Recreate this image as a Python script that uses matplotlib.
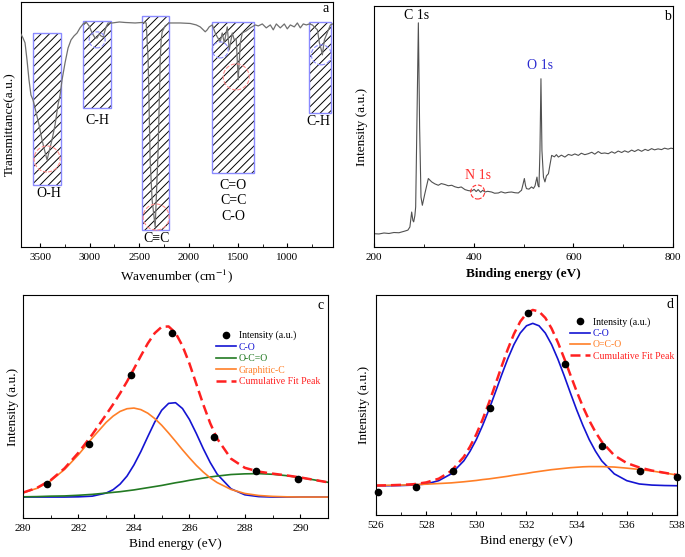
import matplotlib
matplotlib.use('Agg')
import matplotlib.pyplot as plt
from matplotlib.patches import Rectangle, Ellipse
from matplotlib.ticker import MultipleLocator

plt.rcParams['font.family'] = ['Liberation Serif', 'DejaVu Serif']
plt.rcParams['mathtext.fontset'] = 'stix'
plt.rcParams['hatch.linewidth'] = 0.7

### 0. Data
# (a) FTIR spectrum
ftir_wn = [3700, 3677, 3656, 3636, 3616, 3596, 3575, 3545, 3514, 3484, 3454, 3433, 3413, 3383,
           3352, 3322, 3301, 3281, 3251, 3220, 3190, 3160, 3129, 3099, 3068, 3038, 3007, 2977,
           2947, 2926, 2906, 2886, 2865, 2835, 2815, 2774, 2700, 2642, 2541, 2470, 2429, 2409,
           2389, 2369, 2338, 2308, 2287, 2277, 2267, 2237, 2196, 2166, 2085, 1983, 1922, 1882,
           1851, 1831, 1811, 1791, 1760, 1730, 1709, 1679, 1659, 1638, 1608, 1588, 1557, 1537,
           1517, 1497, 1476, 1456, 1415, 1375, 1324, 1294, 1253, 1213, 1172, 1142, 1111, 1071,
           1030, 1000, 969, 929, 898, 868, 838, 807, 777, 746, 716, 695, 675, 655, 645, 624,
           604, 584, 563, 540]
ftir_t = [87.0, 85.3, 83.3, 76.3, 68.2, 62.0, 60.0, 55.1, 49.8, 43.7, 38.8, 35.5, 38.8, 43.7,
          49.8, 58.0, 62.0, 68.2, 75.1, 81.2, 84.5, 86.1, 87.3, 89.4, 91.0, 91.8, 90.2, 87.3,
          85.3, 85.3, 86.9, 86.1, 85.7, 89.8, 91.4, 91.4, 91.8, 91.6, 91.4, 91.6, 91.4, 76.3,
          35.5, 19.2, 8.2, 39.6, 76.3, 84.5, 87.8, 90.2, 91.4, 91.4, 91.4, 91.2, 90.6, 89.8,
          88.6, 87.8, 88.6, 89.8, 90.6, 87.3, 85.7, 83.7, 87.3, 83.3, 89.8, 80.4, 87.3, 84.5,
          85.0, 68.2, 83.3, 87.3, 88.2, 89.4, 90.6, 90.2, 91.0, 89.4, 90.6, 88.6, 91.0, 89.4,
          91.0, 89.0, 90.6, 89.8, 91.4, 89.4, 91.0, 90.6, 91.0, 90.6, 89.4, 88.6, 83.3, 80.4,
          78.4, 84.5, 86.5, 88.6, 90.6, 91.0]
band_lo = [3291, 2784, 2196, 1334, 553]
band_hi = [3575, 3068, 2470, 1760, 777]
band_bot = [25.3, 56.7, 6.9, 30.2, 54.7]
band_top = [87.3, 92.2, 94.3, 91.8, 91.8]
band_names = ['O-H', 'C-H', 'C\u2261C', 'C=O\nC=C\nC-O', 'C-H']
name_wn = [3413, 2926, 2328, 1545, 685]
name_t = [22.0, 51.8, 3.3, 18.8, 51.0]
ring_wn = [3433, 2926, 2328, 1679, 1517, 655]
ring_t = [35.9, 84.5, 12.2, 80.4, 69.4, 78.4]
ring_r = [13, 8, 13, 8, 13, 10]
ring_col = ['#ff8c8c', '#8c8cff', '#ff8c8c', '#8c8cff', '#ff8c8c', '#8c8cff']

# (b) XPS survey
surv_be = [200, 210, 220, 230, 240, 250, 262, 268, 272, 275.6, 278, 279.6, 282, 283.6, 286, 289,
           291.5, 294.3, 297, 302, 309, 315.7, 322, 329, 335, 342.5, 349, 356, 362, 369, 375,
           382.6, 389, 396, 401, 405, 409, 414, 418, 422.7, 428, 436, 442, 449.5, 455, 463, 470,
           476, 483, 489.6, 494, 496, 499, 501.7, 504, 506, 511, 516, 520, 523, 527, 529, 531,
           533, 535, 537, 540, 543, 546, 550, 553, 556.5, 562, 566, 570, 576, 583, 590, 596.7,
           603, 610, 616, 623, 630, 637, 643, 650, 656, 663, 670, 677, 683, 690, 697, 703, 710,
           717, 723, 730, 737, 744, 750, 757, 763, 770, 777, 783, 790, 796, 800]
surv_i = [5.5, 5.4, 5.8, 5.6, 6.0, 5.9, 6.6, 7.0, 8.3, 14.5, 11.0, 10.4, 13.0, 16.6, 50.0, 93.0,
          50.0, 20.7, 17.3, 22.1, 28.4, 27.0, 26.2, 25.6, 26.3, 25.9, 25.4, 25.6, 25.0, 24.6, 24.9,
          23.8, 23.4, 23.2, 23.9, 23.0, 23.8, 22.7, 23.5, 22.8, 23.1, 22.8, 22.3, 22.4, 22.9, 22.4,
          22.7, 22.8, 22.5, 22.4, 23.2, 23.5, 26.0, 28.4, 25.5, 24.2, 24.0, 24.9, 24.3, 25.3, 29.0,
          25.6, 24.9, 40.0, 69.8, 40.0, 29.0, 27.0, 29.5, 30.4, 34.0, 38.0, 37.4, 38.3, 37.3, 38.1,
          37.3, 38.4, 38.0, 38.6, 38.0, 38.9, 38.3, 38.7, 39.3, 38.5, 39.6, 38.8, 39.0, 38.7, 39.5,
          38.9, 39.8, 39.2, 39.9, 39.3, 40.2, 39.6, 40.4, 39.7, 40.5, 40.0, 40.8, 40.3, 40.7, 40.4,
          41.0, 40.6, 41.0, 40.8]
peak_names = ['C 1s', 'O 1s', 'N 1s']
peak_be = [285.7, 533, 409.4]
peak_i = [96.1, 75.4, 29.7]
peak_col = ['black', '#2b2bd0', '#ff3030']

# (c) C 1s fit
c_be = [280, 280.5, 281, 281.5, 282, 282.5, 283, 283.25, 283.5, 283.75, 284, 284.25, 284.5,
        284.75, 285, 285.25, 285.5, 285.75, 286, 286.25, 286.5, 286.75, 287, 287.5, 288, 288.5,
        289, 289.5, 290, 290.5, 291]
c_co = [9.4, 9.4, 9.4, 9.4, 9.5, 9.8, 11.2, 12.7, 15.2, 18.8, 23.8, 29.8, 36.5, 43.0, 48.3,
        51.4, 51.7, 49.1, 44.2, 37.9, 31.1, 24.9, 19.7, 13.1, 10.4, 9.6, 9.4, 9.4, 9.4, 9.4, 9.4]
c_oco = [9.5, 9.6, 9.8, 9.9, 10.2, 10.6, 11.2, 11.5, 11.8, 12.2, 12.6, 13.1, 13.6, 14.1, 14.6,
         15.2, 15.8, 16.3, 16.9, 17.4, 17.9, 18.4, 18.8, 19.5, 19.8, 19.9, 19.6, 19.0, 18.1,
         17.1, 16.0]
c_gra = [11.3, 13.3, 16.7, 21.8, 28.4, 35.9, 42.9, 45.7, 47.8, 49.0, 49.3, 48.6, 47.0, 44.6,
         41.6, 38.1, 34.4, 30.6, 27.0, 23.6, 20.6, 18.0, 15.9, 12.8, 11.0, 10.1, 9.7, 9.5, 9.4,
         9.4, 9.4]
c_sum = [11.4, 13.5, 17.0, 22.3, 29.3, 37.5, 46.4, 51.0, 55.9, 61.2, 66.9, 72.7, 78.3, 82.9,
         85.7, 85.9, 83.0, 77.2, 69.3, 60.1, 50.9, 42.5, 35.6, 26.6, 22.5, 20.8, 19.9, 19.1,
         18.2, 17.1, 16.0]
c_pts_be = [280.85, 282.37, 283.89, 285.38, 286.9, 288.41, 289.9]
c_pts_i = [15.2, 33.1, 64.2, 82.8, 36.1, 21.2, 17.6]

# (d) O 1s fit
d_be = [526, 526.5, 527, 527.5, 528, 528.5, 529, 529.5, 529.75, 530, 530.25, 530.5, 530.75,
        531, 531.25, 531.5, 531.75, 532, 532.25, 532.5, 532.75, 533, 533.25, 533.5, 533.75,
        534, 534.25, 534.5, 534.75, 535, 535.5, 536, 536.5, 537, 537.5, 538]
d_co = [13.3, 13.3, 13.4, 13.6, 14.1, 15.6, 18.7, 24.6, 29.0, 34.3, 40.7, 47.8, 55.5, 63.4,
        70.9, 77.5, 82.7, 86.0, 87.1, 86.0, 82.7, 77.5, 70.9, 63.4, 55.5, 47.8, 40.7, 34.3,
        29.0, 24.6, 18.7, 15.6, 14.1, 13.6, 13.4, 13.3]
d_oco = [13.4, 13.5, 13.6, 13.8, 14.0, 14.3, 14.6, 15.1, 15.4, 15.7, 16.1, 16.4, 16.8, 17.2,
         17.6, 18.1, 18.5, 18.9, 19.4, 19.8, 20.2, 20.6, 20.9, 21.2, 21.5, 21.7, 21.9, 22.0,
         22.0, 22.0, 21.8, 21.3, 20.7, 20.0, 19.1, 18.2]
d_sum = [13.4, 13.5, 13.7, 14.0, 14.8, 16.5, 20.0, 26.4, 31.1, 36.7, 43.4, 50.9, 59.0, 67.3,
         75.2, 82.3, 87.9, 91.6, 93.2, 92.5, 89.6, 84.8, 78.5, 71.3, 63.7, 56.2, 49.2, 43.0,
         37.7, 33.3, 27.1, 23.6, 21.6, 20.2, 19.2, 18.2]
d_pts_be = [526.09, 527.58, 529.06, 530.55, 532.05, 533.54, 535.03, 536.53, 538.02]
d_pts_i = [10.6, 12.9, 20.0, 48.8, 91.7, 68.5, 31.4, 20.2, 17.1]

### 1. Figure
fig = plt.figure(figsize=(6.85, 5.57), dpi=100)
ax_a = fig.add_axes([0.0302, 0.5566, 0.4555, 0.4400])
ax_b = fig.add_axes([0.5460, 0.5566, 0.4365, 0.4327])
ax_c = fig.add_axes([0.0336, 0.0700, 0.4453, 0.4004])
ax_d = fig.add_axes([0.5489, 0.0754, 0.4394, 0.3950])

def style(ax, major, minor, letter, lx, ly):
    ax.xaxis.set_major_locator(MultipleLocator(major))
    ax.xaxis.set_minor_locator(MultipleLocator(minor))
    ax.tick_params(axis='x', which='major', direction='in', length=3, width=0.8,
                   labelsize=8, pad=4)
    ax.tick_params(axis='x', which='minor', direction='in', length=2, width=0.6)
    ax.set_yticks([])
    for s in ax.spines.values():
        s.set_linewidth(0.8)
    ax.text(lx, ly, letter, transform=ax.transAxes, ha='center', va='center', fontsize=10)

def ring(ax, x, y, r, col, sx, sy):
    ax.add_patch(Ellipse((x, y), 2 * r * sx, 2 * r * sy, fill=False, ls='--',
                         ec=col, lw=0.8, zorder=4))

### 2. Panel a
for lo, hi, bot, top in zip(band_lo, band_hi, band_bot, band_top):
    ax_a.add_patch(Rectangle((lo, bot), hi - lo, top - bot, fill=False, hatch='////',
                             edgecolor='k', lw=0, zorder=1))
    ax_a.add_patch(Rectangle((lo, bot), hi - lo, top - bot, fill=False,
                             edgecolor='#8a8aff', lw=1.0, zorder=2))
ax_a.plot(ftir_wn, ftir_t, color='#707070', lw=0.9, zorder=3)
for x, y, r, col in zip(ring_wn, ring_t, ring_r, ring_col):
    ring(ax_a, x, y, r, col, 3160 / 312, 100 / 245)
for name, x, y in zip(band_names, name_wn, name_t):
    ax_a.text(x, y, name, ha='center', va='center', fontsize=10, linespacing=1.25)
ax_a.set_xlim(3700, 540)
ax_a.set_ylim(0, 100)
style(ax_a, 500, 250, 'a', 0.978, 0.975)
ax_a.set_xlabel('Wavenumber (cm$^{-1}$)', fontsize=9.5, labelpad=4)
ax_a.set_ylabel('Transmittance(a.u.)', fontsize=9.5, labelpad=3)

### 3. Panel b
ax_b.plot(surv_be, surv_i, color='#505050', lw=0.8)
for name, x, y, col in zip(peak_names, peak_be, peak_i, peak_col):
    ax_b.text(x, y, name, ha='center', va='center', fontsize=10, color=col)
ring(ax_b, 408, 22.8, 7, '#ff3030', 600 / 299, 100 / 241)
ax_b.set_xlim(200, 800)
ax_b.set_ylim(0, 100)
style(ax_b, 200, 100, 'b', 0.98, 0.958)
ax_b.set_xlabel('Binding energy (eV)', fontsize=9.5, fontweight='bold', labelpad=5)
ax_b.set_ylabel('Intensity (a.u.)', fontsize=9.5, labelpad=4)

### 4. Panel c
l_co, = ax_c.plot(c_be, c_co, color='#1414d2', lw=1.2)
l_oco, = ax_c.plot(c_be, c_oco, color='#237a23', lw=1.2)
l_gra, = ax_c.plot(c_be, c_gra, color='#ff7f27', lw=1.2)
l_sum, = ax_c.plot(c_be, c_sum, color='#ff2020', lw=1.8, ls=(0, (4, 2)))
p_c, = ax_c.plot(c_pts_be, c_pts_i, 'o', color='black', ms=4.5, ls='none')
ax_c.legend([p_c, l_co, l_oco, l_gra, l_sum],
            ['Intensity (a.u.)', 'C-O', 'O-C=O', 'Graphitic-C', 'Cumulative Fit Peak'],
            labelcolor=['black', '#1414d2', '#237a23', '#ff7f27', '#ff2020'],
            loc='upper right', bbox_to_anchor=(0.974, 0.84), frameon=False, fontsize=7,
            handlelength=2.0, handletextpad=0.3, labelspacing=0.25, borderpad=0,
            borderaxespad=0)
ax_c.set_xlim(280, 291)
ax_c.set_ylim(0, 100)
style(ax_c, 2, 1, 'c', 0.974, 0.955)
ax_c.set_xlabel('Bind energy (eV)', fontsize=9.5, labelpad=4)
ax_c.set_ylabel('Intensity (a.u.)', fontsize=9.5, labelpad=3)

### 5. Panel d
l_co, = ax_d.plot(d_be, d_co, color='#1414d2', lw=1.2)
l_oco, = ax_d.plot(d_be, d_oco, color='#ff7f27', lw=1.2)
l_sum, = ax_d.plot(d_be, d_sum, color='#ff2020', lw=1.8, ls=(0, (4, 2)))
p_d, = ax_d.plot(d_pts_be, d_pts_i, 'o', color='black', ms=4.5, ls='none', clip_on=False)
ax_d.legend([p_d, l_co, l_oco, l_sum],
            ['Intensity (a.u.)', 'C-O', 'O=C-O', 'Cumulative Fit Peak'],
            labelcolor=['black', '#1414d2', '#ff7f27', '#ff2020'],
            loc='upper right', bbox_to_anchor=(0.99, 0.9), frameon=False, fontsize=7,
            handlelength=2.0, handletextpad=0.3, labelspacing=0.25, borderpad=0,
            borderaxespad=0)
ax_d.set_xlim(526, 538)
ax_d.set_ylim(0, 100)
style(ax_d, 2, 1, 'd', 0.977, 0.959)
ax_d.set_xlabel('Bind energy (eV)', fontsize=9.5, labelpad=4)
ax_d.set_ylabel('Intensity (a.u.)', fontsize=9.5, labelpad=4)

fig.savefig('out.png', dpi=100)
